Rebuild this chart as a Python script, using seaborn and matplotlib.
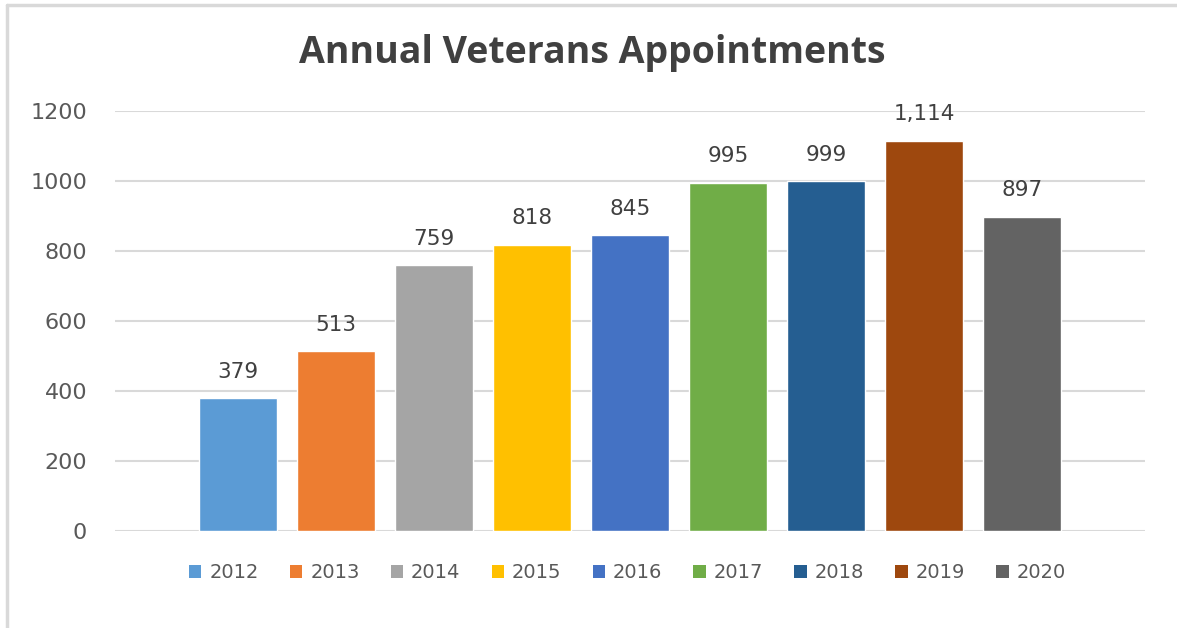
import matplotlib
matplotlib.use("Agg")
import matplotlib.pyplot as plt
from matplotlib.lines import Line2D
from matplotlib.patches import Patch
import seaborn as sns
import pandas as pd

# datos
years = ["2012", "2013", "2014", "2015", "2016", "2017", "2018", "2019", "2020"]
appointments = [379, 513, 759, 818, 845, 995, 999, 1114, 897]
colors = ["#5B9BD5", "#ED7D31", "#A5A5A5", "#FFC000", "#4472C4",
          "#70AD47", "#255E91", "#9E480E", "#636363"]

df = pd.DataFrame({"Year": years, "Appointments": appointments})

sns.set_style("white")
plt.rcParams["font.family"] = ["DejaVu Sans"]

fig = plt.figure(figsize=(11.77, 6.28), dpi=100)
ax = fig.add_axes([0.0977, 0.1545, 0.8751, 0.6687])

sns.barplot(data=df, x="Year", y="Appointments", hue="Year", palette=colors,
            dodge=False, width=0.8, legend=False, ax=ax, saturation=1)

for cont in ax.containers:
    ax.bar_label(cont, labels=[f"{v:,.0f}" for v in cont.datavalues],
                 padding=12, fontsize=15.5, color="#404040")

ax.set_ylim(0, 1200)
ax.set_yticks(range(0, 1201, 200))
ax.set_xlim(-1.255, 9.255)
ax.set_xticks([])
ax.set_xlabel("")
ax.set_ylabel("")
ax.yaxis.grid(True, color="#D9D9D9", linewidth=1.5)
ax.set_axisbelow(True)
for s in ax.spines.values():
    s.set_visible(False)
ax.tick_params(axis="y", length=0, pad=20, labelsize=16, labelcolor="#595959")

handles = [Patch(facecolor=c, edgecolor="none") for c in colors]
fig.legend(handles, years, loc="center", bbox_to_anchor=(0.533, 0.0876), ncol=9,
           frameon=False, fontsize=14, labelcolor="#595959",
           handlelength=0.65, handleheight=0.65, handletextpad=0.4, columnspacing=1.6)

fig.text(0.503, 1 - 63 / 628, "Annual Veterans Appointments", ha="center", va="baseline",
         fontsize=27, fontweight="bold", color="#404040", family="Open Sans")

# marco del grafico
fig.add_artist(Line2D([7 / 1177, 1], [1 - 5 / 628, 1 - 5 / 628], color="#D9D9D9",
                      linewidth=2.5, transform=fig.transFigure))
fig.add_artist(Line2D([7 / 1177, 7 / 1177], [0, 1 - 5 / 628], color="#D9D9D9",
                      linewidth=2.5, transform=fig.transFigure))

plt.savefig("out.png", dpi=100)
